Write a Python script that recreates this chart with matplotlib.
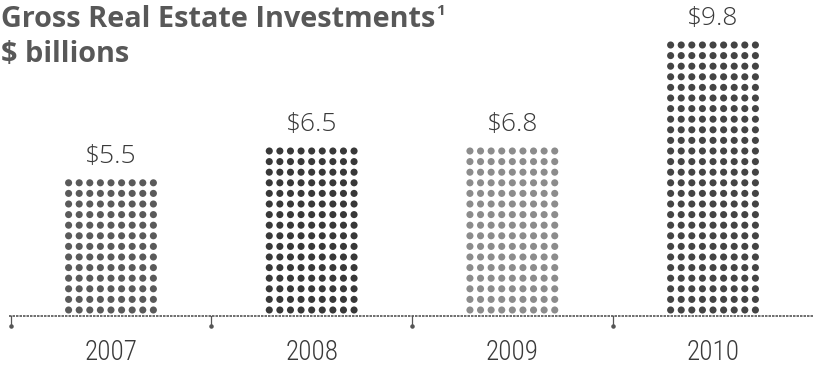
import matplotlib
matplotlib.use("Agg")
import matplotlib.pyplot as plt
import numpy as np

years = ["2007", "2008", "2009", "2010"]
values = [5.5, 6.5, 6.8, 9.8]
value_labels = ["$5.5", "$6.5", "$6.8", "$9.8"]
dot_rows = [13, 16, 16, 26]      # rows of dots per column
dot_cols = 9
dot_colors = ["#5a5a5a", "#383838", "#8c8c8c", "#444444"]

title_font = "Open Sans"
value_font = "Open Sans"
year_font = "Roboto Condensed"

W, H, DPI = 814, 373, 100
fig = plt.figure(figsize=(W / DPI, H / DPI), dpi=DPI)
ax = fig.add_axes([0, 0, 1, 1])

px_per_x = 200.7
x0_px = 111
px_per_row = 10.6
row0_px = 310
ax.set_xlim(-x0_px / px_per_x, 3 + (W - 713) / px_per_x)
ax.set_ylim((row0_px - H) / px_per_row, row0_px / px_per_row)
ax.axis("off")

col_step = px_per_row / px_per_x
for i, (n, c) in enumerate(zip(dot_rows, dot_colors)):
    xs = i + (np.arange(dot_cols) - (dot_cols - 1) / 2) * col_step
    ys = np.arange(n)
    X, Y = np.meshgrid(xs, ys)
    ax.scatter(X.ravel(), Y.ravel(), s=26, color=c, edgecolors="none")
    ax.text(i, n - 1 + 1.85, value_labels[i], ha="center", va="baseline",
            fontsize=19, color="#3a3a3a", family=value_font, fontweight="light")
    ax.text(i, -4.05, years[i], ha="center", va="center",
            fontsize=19.5, color="#3a3a3a", family=year_font, fontweight="light")

axis_y = -0.55
ax.plot([-0.51, ax.get_xlim()[1]], [axis_y, axis_y], color="#555555", lw=1.2,
        linestyle=(0, (1.5, 0.6)))
for t in [-0.5, 0.5, 1.5, 2.5]:
    ax.plot([t, t], [axis_y, axis_y - 0.9], color="#555555", lw=0.9)
    ax.scatter([t], [axis_y - 0.95], s=5, color="#555555")

t1 = fig.text(1 / W, 1 - 27 / H, "Gross Real Estate Investments", fontsize=20.8,
              fontweight="bold", color="#585858", family=title_font,
              va="baseline", ha="left")
fig.canvas.draw()
bb = t1.get_window_extent()
fig.text((bb.x1 + 1) / W, 1 - 15 / H, "1", fontsize=11, fontweight="bold",
         color="#585858", family=title_font, va="baseline", ha="left")
fig.text(1 / W, 1 - 62 / H, "$ billions", fontsize=20.8,
         fontweight="bold", color="#585858", family=title_font,
         va="baseline", ha="left")

fig.savefig("out.png", dpi=DPI)
